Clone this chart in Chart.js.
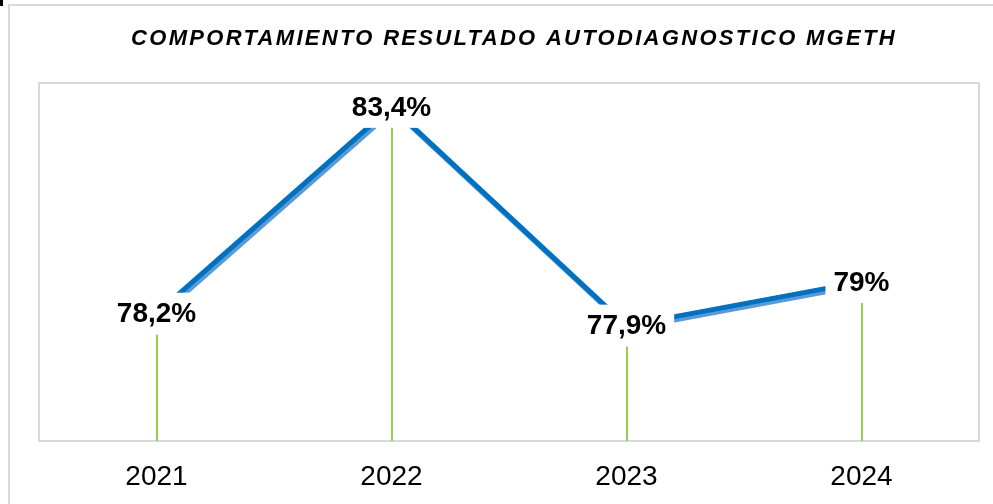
<!DOCTYPE html>
<html>
<head>
<meta charset="utf-8">
<script src="https://cdn.jsdelivr.net/npm/chart.js@4.4.1/dist/chart.umd.min.js"></script>
<style>
  body { margin: 0; background: #fff; }
  canvas { display: block; }
</style>
</head>
<body>
<canvas id="chart_mgeth" width="993" height="504"></canvas>
<script>
const years = ["2021", "2022", "2023", "2024"];
const resultado = [78.2, 83.4, 77.9, 79.0];
const chart_title = "COMPORTAMIENTO RESULTADO AUTODIAGNOSTICO MGETH";
const y_min = 75;
const y_max = 84;

const fontFamily = "'Liberation Sans', Arial, sans-serif";
const chart_mgeth_canvas = document.getElementById("chart_mgeth").getContext("2d");

// formato con coma decimal: 78.2 -> "78,2%"
const formatPct = (v) => String(v).replace(".", ",") + "%";

// marcos, titulo y lineas verticales (drop lines)
const fondoPlugin = {
  id: "fondo",
  beforeDraw(chart) {
    const ctx = chart.ctx;
    const area = chart.chartArea;
    ctx.save();
    ctx.fillStyle = "#000";
    ctx.fillRect(0, 0, 3, 6);
    ctx.strokeStyle = "#d9d9d9";
    ctx.lineWidth = 2;
    ctx.strokeRect(9, 5, chart.width + 20, chart.height + 20);
    ctx.strokeRect(area.left, area.top, area.right - area.left, area.bottom - area.top);

    ctx.fillStyle = "#000";
    ctx.font = "italic bold 22px " + fontFamily;
    ctx.letterSpacing = "2.3px";
    ctx.textAlign = "center";
    ctx.textBaseline = "middle";
    ctx.fillText(chart_title, 514, 39);
    ctx.restore();
  },
  beforeDatasetsDraw(chart) {
    const ctx = chart.ctx;
    const meta = chart.getDatasetMeta(0);
    ctx.save();
    ctx.strokeStyle = "#92d050";
    ctx.lineWidth = 2;
    meta.data.forEach((pt) => {
      ctx.beginPath();
      ctx.moveTo(Math.round(pt.x), pt.y);
      ctx.lineTo(Math.round(pt.x), chart.chartArea.bottom);
      ctx.stroke();
    });
    ctx.restore();
  },
};

// sombra clara bajo la linea azul
const sombraPlugin = {
  id: "sombra",
  beforeDatasetDraw(chart) {
    const ctx = chart.ctx;
    ctx.save();
    ctx.shadowColor = "#5b9bd5";
    ctx.shadowOffsetX = 2;
    ctx.shadowOffsetY = 3;
    ctx.shadowBlur = 0;
  },
  afterDatasetDraw(chart) {
    chart.ctx.restore();
  },
};

// etiquetas de datos con fondo blanco
const etiquetasPlugin = {
  id: "etiquetas",
  afterDatasetsDraw(chart) {
    const ctx = chart.ctx;
    const meta = chart.getDatasetMeta(0);
    ctx.save();
    ctx.font = "bold 28px " + fontFamily;
    ctx.textAlign = "center";
    ctx.textBaseline = "middle";
    meta.data.forEach((pt, i) => {
      const txt = formatPct(resultado[i]);
      const w = ctx.measureText(txt).width + 16;
      ctx.fillStyle = "#fff";
      ctx.fillRect(pt.x - w / 2, pt.y - 21, w, 42);
      ctx.fillStyle = "#000";
      ctx.fillText(txt, pt.x, pt.y + 1);
    });
    ctx.restore();
  },
};

const chart_mgeth_object = new Chart(chart_mgeth_canvas, {
  type: "line",
  data: {
    labels: years,
    datasets: [
      {
        label: "Resultado",
        data: resultado,
        borderColor: "#0070c0",
        borderWidth: 5,
        pointRadius: 0,
        tension: 0,
        fill: false,
      },
    ],
  },
  options: {
    responsive: false,
    animation: false,
    layout: {
      padding: { left: 39, right: 14, top: 83, bottom: 7 },
    },
    plugins: {
      legend: { display: false },
      title: { display: false },
      tooltip: { enabled: false },
    },
    scales: {
      x: {
        offset: true,
        grid: { display: false, drawTicks: false },
        border: { display: false },
        ticks: {
          color: "#000",
          padding: 19,
          font: { family: fontFamily, size: 28 },
        },
        afterFit: (scale) => {
          scale.height = 56;
        },
      },
      y: {
        display: false,
        min: y_min,
        max: y_max,
      },
    },
  },
  plugins: [fondoPlugin, sombraPlugin, etiquetasPlugin],
});
</script>
</body>
</html>
